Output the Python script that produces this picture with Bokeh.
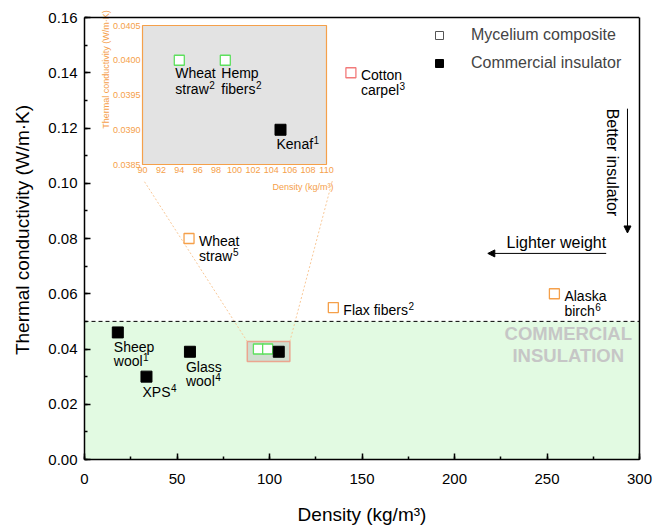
import math
from bokeh.plotting import figure
from bokeh.models import (Range1d, LinearAxis, FixedTicker, SingleIntervalTicker, PrintfTickFormatter,
                          Legend, LegendItem, Arrow, NormalHead, Span, BoxAnnotation, ColumnDataSource,
                          Label)
from bokeh.core.properties import value
from bokeh.embed import file_html
from bokeh.resources import INLINE

FONT = "Liberation Sans"

# ---------------- data ----------------
myc_label = ["Cotton\ncarpel", "Wheat\nstraw", "Flax fibers", "Alaska\nbirch", "Wheat\nstraw", "Hemp\nfibers"]
myc_ref = ["3", "5", "2", "6", "2", "2"]
myc_density = [144, 56.5, 134.5, 254, 94, 99]
myc_k = [0.140, 0.080, 0.055, 0.060, 0.040, 0.040]
myc_color = ["#f27a7a", "#f5a04a", "#f5a04a", "#f5a04a", "#5ee05e", "#5ee05e"]

com_label = ["Sheep\nwool", "XPS", "Glass\nwool", "Kenaf"]
com_ref = ["1", "4", "4", "1"]
com_density = [18, 33.5, 57, 105]
com_k = [0.046, 0.030, 0.039, 0.039]

x_lim = [0, 300]
y_lim = [0, 0.16]
x_tick_interval = 50
y_tick_interval = 0.02
threshold = 0.05
band_label = ["COMMERCIAL", "INSULATION"]
band_label_x = [261.5, 261.5]
band_label_y = [0.0456, 0.0376]

zoom_box_x = [88, 111]
zoom_box_y = [0.0355, 0.0427]
inset_x_lim = [90, 110]
inset_y_lim = [0.0385, 0.0405]
inset_x_ticks = list(range(90, 111, 2))
inset_y_ticks = [0.0385, 0.0390, 0.0395, 0.0400, 0.0405]
link_top_x = [32, 134]
link_top_y = 0.101

arrow_h = dict(x_start=282, x_end=218, y=0.0746)
arrow_v = dict(x=293.5, y_start=0.127, y_end=0.082)

# ---------------- layout ----------------
W, H = 655, 528
BL, BR, BB = 84, 16, 69
TOPPAD = 17                      # px of free room above the drawn box (inside the frame)
FW, FH = W - BL - BR, H - BB     # frame starts at the top of the canvas
IL, IR, IT, IB = 58, 242, 25, 164   # inset box inside frame (px from frame left/top)

y_top = y_lim[0] + (y_lim[1] - y_lim[0]) * FH / (FH - TOPPAD)

sx = (inset_x_lim[1] - inset_x_lim[0]) / (IR - IL)
sy = (inset_y_lim[1] - inset_y_lim[0]) / (IB - IT)
inset_xr = Range1d(inset_x_lim[0] - IL * sx, inset_x_lim[1] + (FW - IR) * sx)
inset_yr = Range1d(inset_y_lim[0] - (FH - IB) * sy, inset_y_lim[1] + IT * sy)

ORANGE = "#f5a04a"
LABEL_PX = 14
SUP_PX = 10

# Arial / Liberation Sans advance widths (per 1000 em) for label layout
ADV = {"a": 556, "b": 556, "c": 500, "e": 556, "f": 278, "h": 556, "i": 222, "k": 500, "l": 222,
       "n": 556, "o": 556, "p": 556, "r": 333, "s": 500, "t": 278, "w": 722, "x": 500, " ": 278,
       "F": 611, "K": 667, "P": 667, "S": 667, "X": 667, "C": 722, "W": 944, "A": 667, "G": 778,
       "H": 722}

def text_width(s, size):
    return sum(ADV.get(ch, 556) for ch in s) / 1000 * size

p = figure(width=W, height=H, x_range=Range1d(*x_lim), y_range=Range1d(y_lim[0], y_top),
           output_backend="svg", toolbar_location=None,
           min_border_left=BL, min_border_right=BR, min_border_top=0, min_border_bottom=BB)
p.extra_x_ranges = {"inset": inset_xr}
p.extra_y_ranges = {"inset": inset_yr}
p.xgrid.visible = False
p.ygrid.visible = False
p.background_fill_color = "white"
p.border_fill_color = "white"
p.outline_line_alpha = 0

for ax in (p.xaxis[0], p.yaxis[0]):
    ax.axis_line_width = 1.5
    ax.major_tick_line_width = 1.5
    ax.minor_tick_line_width = 1.5
    ax.major_tick_in = 6
    ax.major_tick_out = 0
    ax.minor_tick_in = 3
    ax.minor_tick_out = 0
    ax.major_label_text_font = FONT
    ax.major_label_text_font_size = "15px"
    ax.major_label_text_color = "black"
    ax.axis_label_text_font = FONT
    ax.axis_label_text_font_size = "19px"
    ax.axis_label_text_font_style = "normal"
    ax.axis_label_text_color = "black"

p.xaxis.ticker = SingleIntervalTicker(interval=x_tick_interval, num_minor_ticks=2)
p.yaxis.ticker = SingleIntervalTicker(interval=y_tick_interval, num_minor_ticks=2)
p.yaxis.bounds = tuple(y_lim)
p.yaxis.formatter = PrintfTickFormatter(format="%.2f")
p.xaxis.axis_label = "Density (kg/m³)"
p.yaxis.axis_label = "Thermal conductivity (W/m·K)"
p.xaxis.major_label_standoff = 14
p.xaxis.axis_label_standoff = 17
p.yaxis.major_label_standoff = 7
p.yaxis.axis_label_standoff = 12

# right and top edges of the plot box
right_edge = LinearAxis(ticker=FixedTicker(ticks=[]), bounds=tuple(y_lim), axis_line_width=1.5,
                        major_tick_in=0, major_tick_out=0, minor_tick_in=0, minor_tick_out=0,
                        major_label_text_alpha=0)
p.add_layout(right_edge, "right")
p.add_layout(Span(location=y_lim[1], dimension="width", line_color="black", line_width=1.5))

# commercial band and threshold line
p.add_layout(BoxAnnotation(bottom=y_lim[0], top=threshold, fill_color="#e2fae2", fill_alpha=1,
                           line_alpha=0, level="underlay"))
p.add_layout(Span(location=threshold, dimension="width", line_color="black", line_width=1,
                  line_dash="4 3"))
p.text(x=band_label_x, y=band_label_y, text=band_label, text_align="center", text_baseline="middle",
       text_font=value(FONT), text_font_size="18.5px", text_font_style="bold", text_color="#c6c6c6")

# connector lines from zoom box to inset
p.segment(x0=[zoom_box_x[0], zoom_box_x[1]], y0=[zoom_box_y[1], zoom_box_y[1]],
          x1=link_top_x, y1=[link_top_y, link_top_y],
          line_color="#f8c898", line_width=1, line_dash="2 2")
# zoom box
p.quad(left=[zoom_box_x[0]], right=[zoom_box_x[1]], bottom=[zoom_box_y[0]], top=[zoom_box_y[1]],
       fill_color="#b4b4b4", fill_alpha=0.4, line_color="#eba58f", line_width=1.5)

# main markers
p.scatter(myc_density, myc_k, marker="square", size=10, fill_color="white",
          line_color=myc_color, line_width=1.3)
p.scatter(com_density, com_k, marker="square", size=11, fill_color="black", line_color="black")


def labels(xs, ys, texts, refs, dx, dy1, step, **kw):
    lines = dict(x=[], y=[], t=[], xo=[], yo=[])
    sups = dict(x=[], y=[], t=[], xo=[], yo=[])
    for x, y, t, r in zip(xs, ys, texts, refs):
        parts = t.split("\n")
        for j, part in enumerate(parts):
            lines["x"].append(x); lines["y"].append(y); lines["t"].append(part)
            lines["xo"].append(dx); lines["yo"].append(dy1 + j * step)
        last = parts[-1]
        sups["x"].append(x); sups["y"].append(y); sups["t"].append(r)
        sups["xo"].append(dx + text_width(last, LABEL_PX) + 0.5)
        sups["yo"].append(dy1 + (len(parts) - 1) * step - 4)
    common = dict(text_align="left", text_baseline="middle", text_font=value(FONT), text_color="black")
    common.update(kw)
    p.text(x="x", y="y", text="t", x_offset="xo", y_offset="yo", source=ColumnDataSource(lines),
           text_font_size=f"{LABEL_PX}px", **common)
    p.text(x="x", y="y", text="t", x_offset="xo", y_offset="yo", source=ColumnDataSource(sups),
           text_font_size=f"{SUP_PX}px", **common)


def inside(x):
    return inset_x_lim[0] <= x <= inset_x_lim[1]

# main labels
mi = [i for i, x in enumerate(myc_density) if not inside(x)]
ci = [i for i, x in enumerate(com_density) if not inside(x)]
labels([myc_density[i] for i in mi], [myc_k[i] for i in mi],
       [myc_label[i] for i in mi], [myc_ref[i] for i in mi], 10, 2, 15)
labels([com_density[i] for i in ci], [com_k[i] for i in ci],
       [com_label[i] for i in ci], [com_ref[i] for i in ci], -4, 15, 14)

# ---------------- inset ----------------
ikw = dict(x_range_name="inset", y_range_name="inset")
p.quad(left=[inset_x_lim[0]], right=[inset_x_lim[1]], bottom=[inset_y_lim[0]], top=[inset_y_lim[1]],
       fill_color="#e3e3e3", line_color=ORANGE, line_width=1.2, **ikw)
mj = [i for i, x in enumerate(myc_density) if inside(x)]
cj = [i for i, x in enumerate(com_density) if inside(x)]
p.scatter([myc_density[i] for i in mj], [myc_k[i] for i in mj], marker="square", size=10,
          fill_color="white", line_color=[myc_color[i] for i in mj], line_width=1.3, **ikw)
p.scatter([com_density[i] for i in cj], [com_k[i] for i in cj], marker="square", size=11,
          fill_color="black", line_color="black", **ikw)
labels([myc_density[i] for i in mj], [myc_k[i] for i in mj],
       [myc_label[i] for i in mj], [myc_ref[i] for i in mj], -4, 13, 16, **ikw)
labels([com_density[i] for i in cj], [com_k[i] for i in cj],
       [com_label[i] for i in cj], [com_ref[i] for i in cj], -4, 14, 16, **ikw)

iy = LinearAxis(y_range_name="inset", x_range_name="inset", fixed_location=inset_x_lim[0],
                ticker=FixedTicker(ticks=inset_y_ticks), formatter=PrintfTickFormatter(format="%.4f"),
                bounds=tuple(inset_y_lim))
ix = LinearAxis(x_range_name="inset", y_range_name="inset", fixed_location=inset_y_lim[0],
                ticker=FixedTicker(ticks=inset_x_ticks), bounds=tuple(inset_x_lim))
# title-only axis for the inset: its span is set so the centred title sits high, as in the original
iy_title = LinearAxis(y_range_name="inset", x_range_name="inset", fixed_location=inset_x_lim[0],
                      ticker=FixedTicker(ticks=[]),
                      bounds=(inset_y_lim[1] - (134.5 - IT) * sy, inset_y_lim[1] + (IT - 2.5) * sy),
                      axis_label="Thermal conductivity (W/m·K)")
for ax in (iy, ix, iy_title):
    ax.axis_line_alpha = 0
    ax.major_tick_in = 0
    ax.major_tick_out = 0
    ax.minor_tick_line_alpha = 0
    ax.major_label_text_font = FONT
    ax.major_label_text_font_size = "9px"
    ax.major_label_text_color = ORANGE
    ax.major_label_standoff = 2
    ax.axis_label_text_font = FONT
    ax.axis_label_text_font_size = "9px"
    ax.axis_label_text_font_style = "normal"
    ax.axis_label_text_color = ORANGE
iy_title.axis_label_standoff = 32
p.add_layout(iy, "left")
p.add_layout(iy_title, "left")
p.add_layout(ix, "below")

p.add_layout(Label(x=inset_x_lim[1], y=inset_y_lim[0], text="Density (kg/m³)",
                   x_offset=7, y_offset=-22, text_align="right", text_baseline="middle",
                   text_font=FONT, text_font_size="9px", text_color=ORANGE, **ikw))

# ---------------- arrows ----------------
p.add_layout(Arrow(end=NormalHead(size=7, fill_color="black", line_color="black"),
                   x_start=arrow_h["x_start"], x_end=arrow_h["x_end"],
                   y_start=arrow_h["y"], y_end=arrow_h["y"], line_width=1))
p.add_layout(Arrow(end=NormalHead(size=7, fill_color="black", line_color="black"),
                   x_start=arrow_v["x"], x_end=arrow_v["x"],
                   y_start=arrow_v["y_start"], y_end=arrow_v["y_end"], line_width=1))
p.text(x=[arrow_h["x_start"]], y=[arrow_h["y"]], text=["Lighter weight"], y_offset=-11,
       text_align="right", text_baseline="middle", text_font=value(FONT), text_font_size="16px")
p.text(x=[arrow_v["x"]], y=[arrow_v["y_start"]], text=["Better insulator"], x_offset=-15,
       angle=-math.pi / 2, text_align="left", text_baseline="middle",
       text_font=value(FONT), text_font_size="16px")

# ---------------- legend ----------------
nan = float("nan")
dummy = ColumnDataSource(data=dict(x=[nan], y=[nan]))
r_myc = p.scatter("x", "y", source=dummy, marker="square", size=9, fill_color="white",
                  line_color="#555555", line_width=1)
r_com = p.scatter("x", "y", source=dummy, marker="square", size=10, fill_color="black",
                  line_color="black")
legend = Legend(items=[LegendItem(label="Mycelium composite", renderers=[r_myc]),
                       LegendItem(label="Commercial insulator", renderers=[r_com])],
                location=(345, 386), glyph_width=20, glyph_height=20, label_height=20,
                label_standoff=22, spacing=8, padding=0, margin=0,
                border_line_alpha=0, background_fill_alpha=0,
                label_text_font=FONT, label_text_font_size="16px")
p.add_layout(legend)

open("out.html", "w").write(file_html(p, INLINE))
